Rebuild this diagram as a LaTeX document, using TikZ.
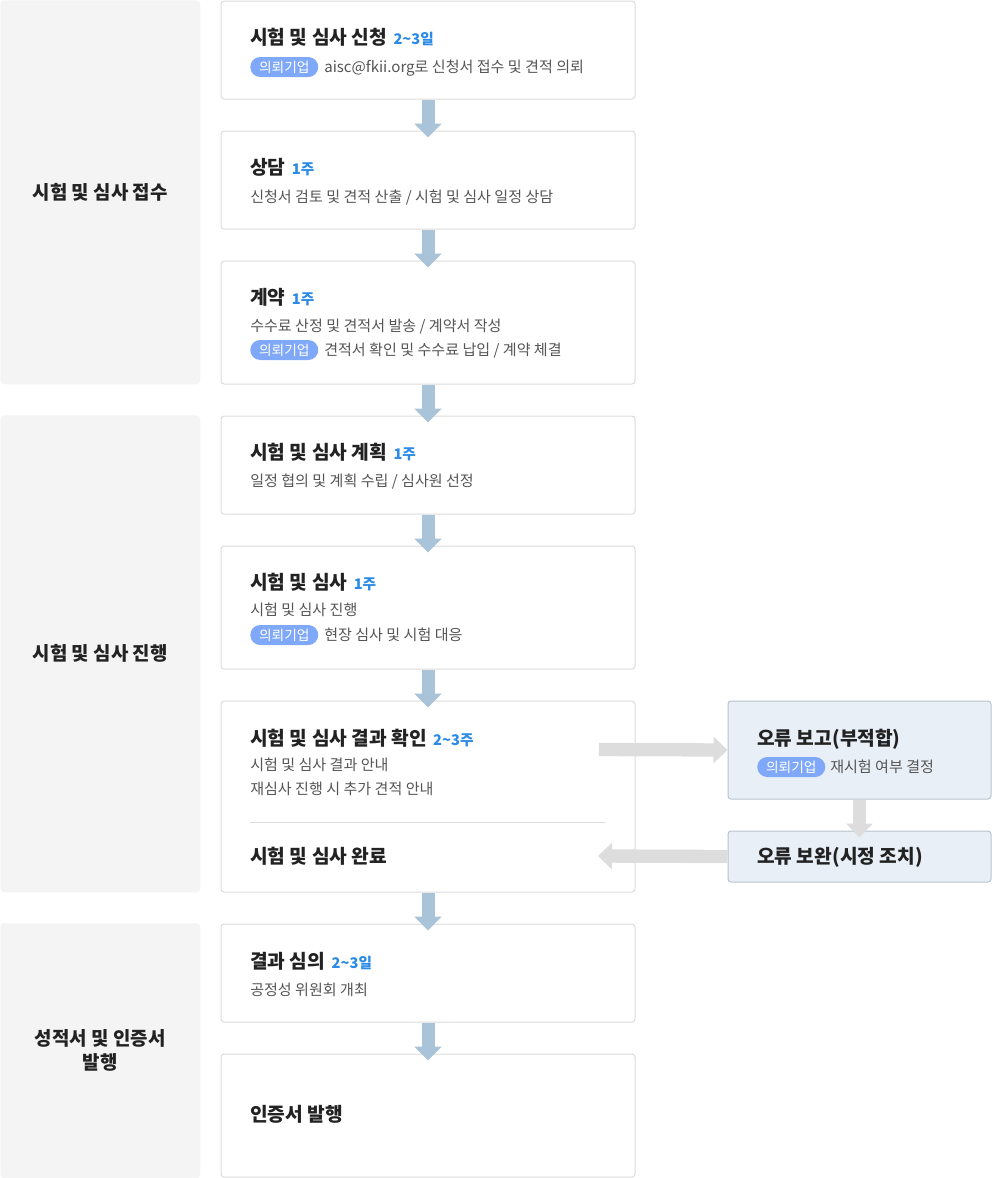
\documentclass[tikz,border=0pt]{standalone}
\usepackage{fontspec}
\setmainfont{Noto Sans CJK KR}
\usetikzlibrary{arrows.meta}
\definecolor{panelgray}{HTML}{F4F4F4}
\definecolor{boxline}{HTML}{DCDCDC}
\definecolor{titlec}{HTML}{222222}
\definecolor{bodyc}{HTML}{555555}
\definecolor{durc}{HTML}{2B8BE6}
\definecolor{badgec}{HTML}{80A8F8}
\definecolor{flowarrow}{HTML}{A9C4D8}
\definecolor{grayarrow}{HTML}{DDDDDD}
\definecolor{errfill}{HTML}{E8EFF7}
\definecolor{errline}{HTML}{B8C3CF}
\newcommand\durtxt[1]{\hspace{4.8pt}{\color{durc}\fontsize{11pt}{13pt}\selectfont #1}}
\begin{document}
\begin{tikzpicture}[x=0.75pt,y=-0.75pt,
  panel/.style={fill=panelgray, draw=none, rounded corners=3pt, anchor=north west, inner sep=0pt, minimum width=150pt},
  mainbox/.style={fill=white, draw=boxline, line width=0.75pt, rounded corners=2.25pt, anchor=north west, inner sep=0pt, minimum width=310.5pt},
  errbox/.style={fill=errfill, draw=errline, line width=0.75pt, rounded corners=2.25pt, anchor=north west, inner sep=0pt, minimum width=197.25pt},
  paneltext/.style={font=\bfseries\fontsize{14.2pt}{18pt}\selectfont, text=titlec, align=center},
  titletext/.style={font=\bfseries\fontsize{14.4pt}{16pt}\selectfont, text=titlec, anchor=base west, inner sep=0pt},
  bodytext/.style={font=\fontsize{11.3pt}{13pt}\selectfont, text=bodyc, anchor=base west, inner sep=0pt},
  badge/.style={fill=badgec, text=white, rounded corners=7.5pt, minimum width=51pt, minimum height=15pt, inner sep=0pt, anchor=west, font=\fontsize{10.3pt}{11pt}\selectfont},
  flow/.style={draw=flowarrow, line width=9.75pt, -{Triangle[width=20.25pt,length=10.5pt]}},
  grayflow/.style={draw=grayarrow, line width=10pt, -{Triangle[width=19.5pt,length=10.5pt]}},
  divider/.style={draw=boxline, line width=0.75pt}
]
\useasboundingbox (0,0) rectangle (992,1178);
% left panels
\node[panel, minimum height=288pt] (p1) at (0,0) {};
\node[paneltext] (pt1) at (p1.center) {시험 및 심사 접수};
\node[panel, minimum height=357.75pt] (p2) at (0,415) {};
\node[paneltext] (pt2) at (p2.center) {시험 및 심사 진행};
\node[panel, minimum height=191.25pt] (p3) at (0,923) {};
\node[paneltext] (pt3) at (p3.center) {성적서 및 인증서\\발행};
% main boxes
\node[mainbox, minimum height=73.5pt] (b1) at (220.5,0.5) {};
\node[mainbox, minimum height=73.5pt] (b2) at (220.5,130.5) {};
\node[mainbox, minimum height=92.25pt] (b3) at (220.5,260.5) {};
\node[mainbox, minimum height=73.5pt] (b4) at (220.5,415.5) {};
\node[mainbox, minimum height=92.25pt] (b5) at (220.5,545.5) {};
\node[mainbox, minimum height=143.25pt] (b6) at (220.5,700.5) {};
\node[mainbox, minimum height=73.5pt] (b7) at (220.5,923.5) {};
\node[mainbox, minimum height=92.25pt] (b8) at (220.5,1053.5) {};
% error boxes
\node[errbox, minimum height=73.5pt] (rA) at (727.5,700.5) {};
\node[errbox, minimum height=38.25pt] (rB) at (727.5,830.5) {};
% box 1
\node[titletext] (t1) at (250,44) {시험 및 심사 신청\durtxt{2\textasciitilde3일}};
\node[badge] (g1) at (250,67) {의뢰기업};
\node[bodytext] (s1) at (324,72) {aisc@fkii.org로 신청서 접수 및 견적 의뢰};
% box 2
\node[titletext] (t2) at (250,174) {상담\durtxt{1주}};
\node[bodytext] (s2) at (250,202) {신청서 검토 및 견적 산출 / 시험 및 심사 일정 상담};
% box 3
\node[titletext] (t3) at (250,304.5) {계약\durtxt{1주}};
\node[bodytext] (s3a) at (250,331) {수수료 산정 및 견적서 발송 / 계약서 작성};
\node[badge] (g3) at (250,350) {의뢰기업};
\node[bodytext] (s3b) at (324,355) {견적서 확인 및 수수료 납입 / 계약 체결};
% box 4
\node[titletext] (t4) at (250,459.5) {시험 및 심사 계획\durtxt{1주}};
\node[bodytext] (s4) at (250,486) {일정 협의 및 계획 수립 / 심사원 선정};
% box 5
\node[titletext] (t5) at (250,589.5) {시험 및 심사\durtxt{1주}};
\node[bodytext] (s5a) at (250,615) {시험 및 심사 진행};
\node[badge] (g5) at (250,635) {의뢰기업};
\node[bodytext] (s5b) at (324,640) {현장 심사 및 시험 대응};
% box 6
\node[titletext] (t6) at (250,745.5) {시험 및 심사 결과 확인\durtxt{2\textasciitilde3주}};
\node[bodytext] (s6a) at (250,770) {시험 및 심사 결과 안내};
\node[bodytext] (s6b) at (250,794) {재심사 진행 시 추가 견적 안내};
\draw[divider] (250,822.5) -- (605,822.5);
\node[titletext] (t6b) at (250,863.5) {시험 및 심사 완료};
% box 7
\node[titletext] (t7) at (250,968.5) {결과 심의\durtxt{2\textasciitilde3일}};
\node[bodytext] (s7) at (250,995) {공정성 위원회 개최};
% box 8
\node[titletext] (t8) at (250,1121.5) {인증서 발행};
% error boxes text
\node[titletext] (tA) at (757,745.5) {오류 보고(부적합)};
\node[badge] (gA) at (757,767) {의뢰기업};
\node[bodytext] (sA) at (830,772) {재시험 여부 결정};
\node[titletext] (tB) at (757,863.5) {오류 보완(시정 조치)};
% flow arrows
\draw[flow] (b1.south) -- ([yshift=-5.25pt]b2.north);
\draw[flow] (b2.south) -- ([yshift=-5.25pt]b3.north);
\draw[flow] (b3.south) -- ([yshift=-5.25pt]b4.north);
\draw[flow] (b4.south) -- ([yshift=-5.25pt]b5.north);
\draw[flow] (b5.south) -- ([yshift=-5.25pt]b6.north);
\draw[flow] (b6.south) -- ([yshift=-5.25pt]b7.north);
\draw[flow] (b7.south) -- ([yshift=-5.25pt]b8.north);
% error loop arrows
\coordinate (ra) at (599,749.5);
\coordinate (lb) at (598,856);
\draw[grayflow] (ra) -- (rA.west);
\draw[grayflow] (rA.south) -- ([yshift=-5.25pt]rB.north);
\draw[grayflow] (rB.west) -- (lb);
\end{tikzpicture}
\end{document}
